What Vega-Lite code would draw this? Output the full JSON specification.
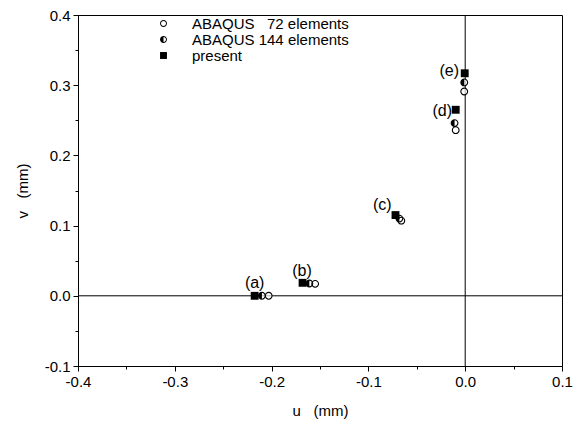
{
  "$schema": "https://vega.github.io/schema/vega-lite/v6.json",
  "width": 484,
  "height": 351,
  "autosize": {"type": "none"},
  "padding": {"left": 78, "top": 15, "right": 17, "bottom": 65},
  "background": "white",
  "config": {
    "view": {"stroke": "black", "strokeWidth": 1},
    "font": "Liberation Sans",
    "axis": {
      "grid": false,
      "domainColor": "black",
      "tickColor": "black",
      "labelColor": "black",
      "titleColor": "black",
      "labelFont": "Liberation Sans",
      "titleFont": "Liberation Sans",
      "labelFontSize": 15,
      "titleFontSize": 15,
      "titleFontWeight": "normal",
      "labelOverlap": false,
      "labelFlush": false
    }
  },
  "datasets": {
    "pts": [
      {"series": "ABAQUS\u00a0\u00a0\u00a072 elements", "u": -0.203, "v": 0.0},
      {"series": "ABAQUS\u00a0\u00a0\u00a072 elements", "u": -0.155, "v": 0.017},
      {"series": "ABAQUS\u00a0\u00a0\u00a072 elements", "u": -0.066, "v": 0.107},
      {"series": "ABAQUS\u00a0\u00a0\u00a072 elements", "u": -0.0098, "v": 0.236},
      {"series": "ABAQUS\u00a0\u00a0\u00a072 elements", "u": -0.001, "v": 0.291},
      {"series": "ABAQUS 144 elements", "u": -0.21, "v": 0.0},
      {"series": "ABAQUS 144 elements", "u": -0.161, "v": 0.0175},
      {"series": "ABAQUS 144 elements", "u": -0.068, "v": 0.11},
      {"series": "ABAQUS 144 elements", "u": -0.011, "v": 0.246},
      {"series": "ABAQUS 144 elements", "u": -0.001, "v": 0.304},
      {"series": "present", "u": -0.2175, "v": 0.0},
      {"series": "present", "u": -0.168, "v": 0.0185},
      {"series": "present", "u": -0.072, "v": 0.115},
      {"series": "present", "u": -0.0098, "v": 0.265},
      {"series": "present", "u": -0.0005, "v": 0.317}
    ],
    "labels": [
      {"label": "(a)", "u": -0.2175, "v": 0.0185},
      {"label": "(b)", "u": -0.1686, "v": 0.036},
      {"label": "(c)", "u": -0.0856, "v": 0.1296},
      {"label": "(d)", "u": -0.0237, "v": 0.2635},
      {"label": "(e)", "u": -0.0165, "v": 0.32}
    ]
  },
  "encoding": {
    "x": {
      "field": "u",
      "type": "quantitative",
      "scale": {"domain": [-0.4, 0.1], "nice": false, "zero": false},
      "axis": {
        "title": "u\u00a0\u00a0\u00a0(mm)",
        "values": [-0.4, -0.35, -0.3, -0.25, -0.2, -0.15, -0.1, -0.05, 0, 0.05, 0.1],
        "labelExpr": "abs(datum.value*10 - round(datum.value*10)) < 0.001 ? replace(format(datum.value, '.1f'), '\u2212', '-') : ''",
        "tickSize": {"condition": {"test": "abs(datum.value*10 - round(datum.value*10)) < 0.001", "value": 5}, "value": 3},
        "labelPadding": 3,
        "titlePadding": 14
      }
    },
    "y": {
      "field": "v",
      "type": "quantitative",
      "scale": {"domain": [-0.1, 0.4], "nice": false, "zero": false},
      "axis": {
        "title": "v\u00a0\u00a0\u00a0(mm)",
        "values": [-0.1, -0.05, 0, 0.05, 0.1, 0.15, 0.2, 0.25, 0.3, 0.35, 0.4],
        "labelExpr": "abs(datum.value*10 - round(datum.value*10)) < 0.001 ? replace(format(datum.value, '.1f'), '\u2212', '-') : ''",
        "tickSize": {"condition": {"test": "abs(datum.value*10 - round(datum.value*10)) < 0.001", "value": 5}, "value": 3},
        "labelPadding": 3,
        "titlePadding": 14
      }
    }
  },
  "layer": [
    {
      "data": {"values": [{"v": 0}]},
      "mark": {"type": "rule", "color": "black", "strokeWidth": 1},
      "encoding": {"x": null}
    },
    {
      "data": {"values": [{"u": 0}]},
      "mark": {"type": "rule", "color": "black", "strokeWidth": 1},
      "encoding": {"y": null}
    },
    {
      "data": {"name": "pts"},
      "transform": [{"filter": "datum.series !== 'present'"}],
      "mark": {"type": "point", "shape": "circle", "filled": true, "color": "white", "size": 50, "strokeWidth": 0}
    },
    {
      "data": {"name": "pts"},
      "mark": {"type": "point", "filled": true, "color": "black", "size": 62, "strokeWidth": 0, "opacity": 1},
      "encoding": {
        "shape": {
          "field": "series",
          "type": "nominal",
          "scale": {
            "domain": ["ABAQUS\u00a0\u00a0\u00a072 elements", "ABAQUS 144 elements", "present"],
            "range": [
              "M-1,0A1,1,0,1,1,1,0A1,1,0,1,1,-1,0ZM-0.72,0A0.72,0.72,0,1,0,0.72,0A0.72,0.72,0,1,0,-0.72,0Z",
              "M-1,0A1,1,0,1,1,1,0A1,1,0,1,1,-1,0ZM-0.72,0A0.72,0.72,0,1,0,0.72,0A0.72,0.72,0,1,0,-0.72,0ZM0,-0.72A0.72,0.72,0,0,0,0,0.72Z",
              "square"
            ]
          },
          "legend": {
            "title": null,
            "orient": "none",
            "legendX": 78,
            "legendY": 1,
            "padding": 0,
            "symbolSize": 48,
            "symbolFillColor": "black",
            "symbolStrokeWidth": 0,
            "symbolOpacity": 1,
            "labelFont": "Liberation Sans",
            "labelFontSize": 15,
            "labelColor": "black",
            "labelOffset": 21,
            "rowPadding": 0
          }
        }
      }
    },
    {
      "data": {"name": "labels"},
      "mark": {"type": "text", "font": "Liberation Sans", "fontSize": 16, "color": "black", "align": "center", "baseline": "middle"},
      "encoding": {"text": {"field": "label", "type": "nominal"}}
    }
  ]
}
